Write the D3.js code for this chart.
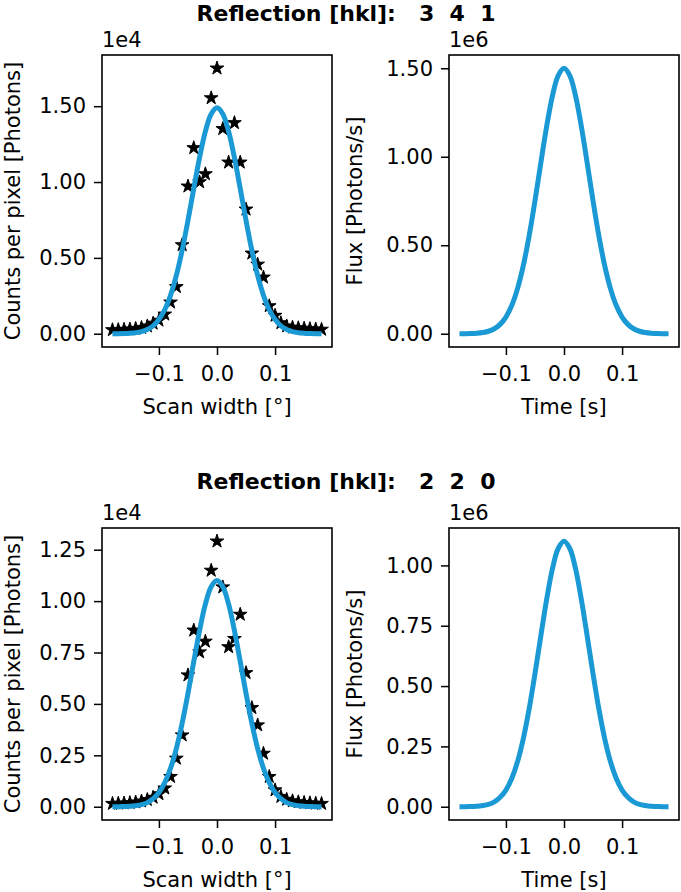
<!DOCTYPE html>
<html><head><meta charset="utf-8">
<script src="https://cdn.jsdelivr.net/npm/d3@7"></script>
<style>
body{margin:0;background:#fff}
svg{display:block}
text{font-family:"DejaVu Sans",sans-serif;fill:#000}
</style>
</head><body><svg id="c" width="681" height="892"></svg>
<script>
// ---- data ----
const scanX = [-0.18,-0.17,-0.16,-0.15,-0.14,-0.13,-0.12,-0.11,-0.10,-0.09,-0.08,-0.07,-0.06,-0.05,-0.04,-0.03,-0.02,-0.01,0.00,
  0.01,0.02,0.03,0.04,0.05,0.06,0.07,0.08,0.09,0.10,0.11,0.12,0.13,0.14,0.15,0.16,0.17,0.18];
// reflection 3 4 1  (counts in units of 1e4, flux in units of 1e6)
const counts341 = [0.025,0.026,0.028,0.030,0.034,0.040,0.050,0.068,0.088,0.128,0.207,0.309,0.585,0.972,1.225,1.000,1.053,1.554,1.750,
  1.351,1.130,1.390,1.130,0.820,0.530,0.457,0.372,0.183,0.120,0.071,0.050,0.042,0.038,0.035,0.032,0.030,0.028];
const fit341 = [0.000,0.000,0.001,0.003,0.007,0.014,0.028,0.052,0.094,0.158,0.253,0.384,0.550,0.746,0.957,1.161,1.334,1.449,1.490,
  1.449,1.334,1.161,0.957,0.746,0.550,0.384,0.253,0.158,0.094,0.052,0.028,0.014,0.007,0.003,0.001,0.000,0.000];
const flux341 = [0.000,0.000,0.001,0.003,0.007,0.014,0.028,0.053,0.094,0.159,0.255,0.386,0.554,0.751,0.963,1.169,1.343,1.459,1.500,
  1.459,1.343,1.169,0.963,0.751,0.554,0.386,0.255,0.159,0.094,0.053,0.028,0.014,0.007,0.003,0.001,0.000,0.000];
// reflection 2 2 0
const counts220 = [0.015,0.016,0.017,0.019,0.022,0.027,0.034,0.045,0.062,0.090,0.146,0.235,0.348,0.640,0.858,0.752,0.804,1.149,1.291,
  1.068,0.777,0.817,0.935,0.651,0.481,0.397,0.259,0.146,0.081,0.049,0.035,0.028,0.023,0.020,0.018,0.016,0.015];
const fit220 = [0.000,0.000,0.001,0.002,0.005,0.010,0.020,0.039,0.069,0.117,0.187,0.283,0.406,0.551,0.706,0.857,0.985,1.070,1.100,
  1.070,0.985,0.857,0.706,0.551,0.406,0.283,0.187,0.117,0.069,0.039,0.020,0.010,0.005,0.002,0.001,0.000,0.000];
const flux220 = [0.000,0.000,0.001,0.002,0.005,0.010,0.020,0.039,0.069,0.117,0.187,0.283,0.406,0.551,0.706,0.857,0.985,1.070,1.100,
  1.070,0.985,0.857,0.706,0.551,0.406,0.283,0.187,0.117,0.069,0.039,0.020,0.010,0.005,0.002,0.001,0.000,0.000];

const reflectionLabels = ["3  4  1", "2  2  0"];
const xTicks = [-0.1, 0.0, 0.1];
const yTicks341Counts = [0.0, 0.5, 1.0, 1.5];
const yTicks341Flux = [0.0, 0.5, 1.0, 1.5];
const yTicks220Counts = [0.0, 0.25, 0.5, 0.75, 1.0, 1.25];
const yTicks220Flux = [0.0, 0.25, 0.5, 0.75, 1.0];
const countsExp = "1e4", fluxExp = "1e6";
const countsLabel = "Counts per pixel [Photons]";
const fluxLabel = "Flux [Photons/s]";
const scanLabel = "Scan width [°]";
const timeLabel = "Time [s]";

// ---- drawing ----
const svg = d3.select("#c");
const FS = 21;
const blue = "#1a99d5";

function padExtent(arr) {
  const lo = d3.min(arr), hi = d3.max(arr), p = (hi - lo) * 0.05;
  return [lo - p, hi + p];
}

function panel(box, stars, curve, yTicks, exp, ylabel, xlabel, ylabX) {
  const g = svg.append("g");
  const x = d3.scaleLinear().domain(padExtent(scanX)).range([box.x0, box.x1]);
  const yVals = stars ? stars.concat(curve) : curve;
  const y = d3.scaleLinear().domain(padExtent(yVals)).range([box.y1, box.y0]);

  if (stars) {
    const sym = d3.symbol(d3.symbolStar, 58);
    g.append("g").selectAll("path").data(scanX.map((d, i) => [d, stars[i]]))
      .join("path").attr("d", sym)
      .attr("transform", d => `translate(${x(d[0])},${y(d[1])})`)
      .attr("fill", "#000").attr("stroke", "#000").attr("stroke-width", 1).attr("stroke-linejoin", "round");
  }
  const line = d3.line().x((d, i) => x(scanX[i])).y(d => y(d)).curve(d3.curveCatmullRom);
  g.append("path").datum(curve).attr("d", line)
    .attr("fill", "none").attr("stroke", blue).attr("stroke-width", 5)
    .attr("stroke-linecap", "butt").attr("stroke-linejoin", "round");

  // axes
  const xa = d3.axisBottom(x).tickValues(xTicks).tickSize(8).tickPadding(11).tickFormat(d3.format(".1f"));
  const ya = d3.axisLeft(y).tickValues(yTicks).tickSize(8).tickPadding(8).tickFormat(d3.format(".2f"));
  const gx = g.append("g").attr("transform", `translate(0,${box.y1})`).call(xa);
  const gy = g.append("g").attr("transform", `translate(${box.x0},0)`).call(ya);
  [gx, gy].forEach(a => {
    a.select(".domain").remove();
    a.selectAll("line").attr("stroke", "#000").attr("stroke-width", 1.5);
    a.selectAll("text").attr("font-size", FS).attr("font-family", "DejaVu Sans").attr("fill", "#000");
  });

  g.append("rect").attr("x", box.x0).attr("y", box.y0)
    .attr("width", box.x1 - box.x0).attr("height", box.y1 - box.y0)
    .attr("fill", "none").attr("stroke", "#000").attr("stroke-width", 1.6);

  g.append("text").attr("x", box.x0).attr("y", box.y0 - 8).attr("font-size", FS).text(exp);
  g.append("text").attr("x", (box.x0 + box.x1) / 2).attr("y", box.y1 + 67)
    .attr("text-anchor", "middle").attr("font-size", FS).text(xlabel);
  g.append("text").attr("transform", `translate(${ylabX},${(box.y0 + box.y1) / 2}) rotate(-90)`)
    .attr("text-anchor", "middle").attr("font-size", FS).text(ylabel);
}

const rows = [
  {y0: 55, y1: 347, title: reflectionLabels[0], ty: 21, stars: counts341, fit: fit341, flux: flux341, tc: yTicks341Counts, tf: yTicks341Flux},
  {y0: 528, y1: 820, title: reflectionLabels[1], ty: 489, stars: counts220, fit: fit220, flux: flux220, tc: yTicks220Counts, tf: yTicks220Flux}
];
rows.forEach(r => {
  svg.append("text").attr("x", 346).attr("y", r.ty).attr("text-anchor", "middle")
    .attr("font-size", 22).attr("font-weight", "bold").attr("xml:space", "preserve")
    .style("white-space", "pre").text("Reflection [hkl]:   " + r.title);
  panel({x0: 102, x1: 332, y0: r.y0, y1: r.y1}, r.stars, r.fit, r.tc, countsExp, countsLabel, scanLabel, 20);
  panel({x0: 449, x1: 679, y0: r.y0, y1: r.y1}, null, r.flux, r.tf, fluxExp, fluxLabel, timeLabel, 362);
});
</script>
</body></html>
